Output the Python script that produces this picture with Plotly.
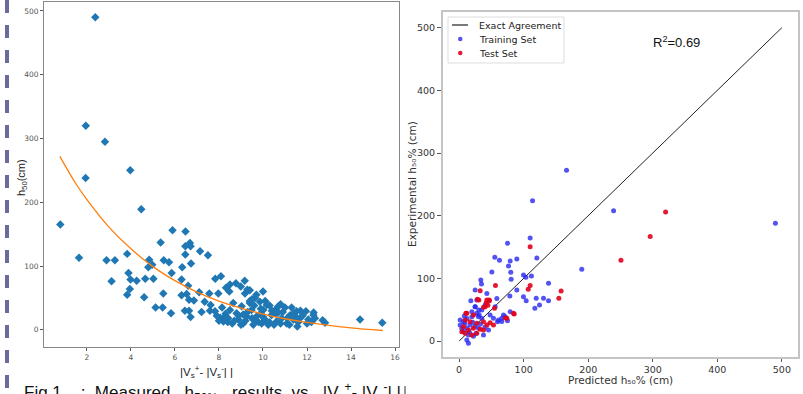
import plotly.graph_objects as go

W, H = 803, 394
def fx(px): return px / W
def fy(py): return 1 - py / H

# ---------------- Left panel data: h50 vs |Vs+ - |Vs-|| ----------------
left_x = [2.38, 1.95, 2.82, 1.94, 3.97, 0.79, 4.47, 1.64, 2.89, 3.27, 3.12, 3.83, 3.89, 3.98,
          4.26, 3.95, 3.83, 4.60, 4.65, 4.83, 4.79, 4.97, 5.02, 5.12, 5.44, 5.35, 5.49, 5.47,
          5.73, 5.85, 5.82, 5.89, 6.30, 6.33, 6.30, 6.48, 6.47, 6.68, 6.71, 6.47, 6.73, 6.60,
          6.53, 6.64, 6.45, 6.64, 6.71, 6.86, 7.10, 7.14, 7.50, 7.21, 7.35, 7.56, 7.62, 7.59,
          7.83, 7.97, 8.09, 8.05, 8.14, 8.32, 8.50, 8.77, 8.99, 9.17, 9.18, 9.29, 9.40, 8.47,
          7.82, 8.27, 8.20, 8.42, 8.50, 8.65, 8.80, 8.88, 9.03, 9.10, 9.26, 9.40, 9.48, 9.56,
          9.64, 9.71, 9.86, 9.94, 10.01, 10.09, 10.17, 10.24, 10.39, 10.55, 10.62, 10.70, 10.85,
          11.00, 11.08, 11.23, 11.38, 11.53, 11.56, 11.68, 11.95, 12.06, 12.29, 12.36, 12.71,
          12.82, 14.41, 15.42, 8.90, 9.00, 9.20, 9.30, 9.50, 9.60, 9.80, 9.90, 10.00, 10.10,
          10.30, 10.40, 10.50, 10.60, 10.80, 10.90, 11.10, 11.20, 11.40, 11.60, 11.80, 12.00,
          12.20, 8.60, 8.30, 8.00, 7.90, 9.70, 9.50, 10.30, 10.80, 11.30, 11.70, 12.30, 10.00,
          9.40, 8.70, 9.10, 9.90, 10.70, 11.50, 8.40, 9.60, 10.20]
left_y = [490, 320, 295, 238, 250, 165, 189, 113, 109, 109, 76, 119, 89, 79,
          77, 64, 55, 51, 80, 110, 98, 102, 80, 35, 35, 137, 109, 57,
          106, 89, 26, 156, 79, 98, 54, 154, 131, 136, 131, 118, 104, 69,
          56, 47, 30, 30, 20, 46, 59, 123, 117, 28, 44, 57, 39, 30,
          80, 57, 84, 19, 35, 66, 71, 73, 68, 77, 57, 63, 62, 60,
          29, 21, 13, 18, 31, 42, 26, 16, 37, 10, 21, 42, 31, 8,
          50, 21, 44, 10, 31, 16, 39, 8, 23, 31, 13, 37, 18,
          35, 10, 23, 16, 29, 5, 18, 29, 16, 23, 18, 15,
          11, 16, 11, 22, 8, 14, 28, 18, 38, 12, 26, 20, 45,
          12, 30, 8, 25, 10, 28, 18, 8, 26, 12, 22, 10,
          12, 10, 25, 14, 22, 55, 48, 38, 40, 35, 30, 27, 60,
          45, 14, 24, 33, 27, 20, 12, 15, 11]

# fitted curve
curve_x = [0.77, 1.5, 2, 3, 4, 5, 6, 7, 8, 9, 10, 11, 12, 13, 14, 15.44]
curve_y = [272, 229, 204, 161, 127, 99, 77, 59, 45, 34, 24.6, 17.3, 11.5, 6.8, 3.1, -1.1]

left_xticks = [2, 4, 6, 8, 10, 12, 14, 16]
left_yticks = [0, 100, 200, 300, 400, 500]

# ---------------- Right panel data: experimental vs predicted ----------------
train_x = [166.4, 113.7, 239.3, 490, 190, 75, 110, 55.3, 62.5, 89.4, 79, 120.4, 76.5, 80,
           80.6, 50.7, 99.7, 103.4, 112, 33.6, 34.6, 138.5, 89.4, 24.8, 58.4, 78.6, 99.7,
           119.4, 130.7, 103.9, 138.5, 124.5, 117.3, 79, 68.7, 75, 66.1, 59.4, 42.9, 27.4,
           18.1, 40.3, 55.8, 24.8, 30.5, 12, 19.7, 27.4, 29.9, 35.1, 17, 24.8, 29.9, 11.9,
           6.7, 14.4, 22.2, 11.9, 14.4, 48, 53.2, 61, 66, 71.3, 1.6, 1.6, 19.7, 35.1, 6.7,
           37.7, 45.5, 24.8, 8, 16, 21, 33, 40, 9, 4, 26, 31]
train_y = [272.6, 224, 208, 188, 114.5, 156, 164.5, 133.7, 129, 131, 127.8, 132.6, 119.8, 109.7,
           98.5, 110, 105.4, 101.7, 103.8, 97.4, 91, 92, 81.5, 81.5, 68, 71.9, 70.8,
           68.2, 68.2, 64.4, 64.4, 57.5, 52.2, 46.9, 41.5, 32.5, 36.2, 30.9, 76, 65.5,
           64.4, 57.5, 54.8, 54.8, 49.5, 36, 38.8, 44.2, 38.8, 36.3, 25.6, 24, 20.3, 20.3,
           30.9, 9.6, 7.5, 1.6, -3.7, 41.5, 36.3, 33.5, 31, 38.8, 25.6, 33.5, 46.8, 49.5, 15,
           9.6, 17.6, 54.8, 40, 14, 30, 27, 22, 28, 20, 12, 42]
test_x = [319.9, 296, 250.7, 110, 158, 154.5, 110, 107, 56.3, 85.3, 71.8, 32.6, 46.5, 30.5,
          54.8, 40.3, 44.5, 10.4, 42.9, 46.9, 28.4, 42, 37.7, 11.9, 22.2, 84.2, 74, 9.3,
          17, 27.4, 37.7, 48, 43, 6.7, 14.4, 22.2, 32.6, 4.2, 9.3, 19.7, 37.7, 53.2, 27.4]
test_y = [206, 166.6, 128.9, 150.6, 79.9, 68.2, 88.4, 82.5, 88.4, 43.1, 36.7, 80.4, 65.5, 65.5,
          52.2, 54.8, 57, 44.2, 65.5, 64.4, 66.6, 61, 53.8, 44.2, 41.5, 44.2, 36.3, 33.5,
          30.9, 28.3, 30.9, 29.3, 25.6, 22.8, 17.6, 20.3, 18.7, 14.9, 12.3, 9.6, 17.6, 25.6, 12.3]
agree_x = [0, 500]
agree_y = [0, 500]
right_ticks = [0, 100, 200, 300, 400, 500]

fig = go.Figure()

# Left panel
fig.add_trace(go.Scatter(x=left_x, y=left_y, mode="markers", xaxis="x", yaxis="y",
                         marker=dict(symbol="diamond", size=6.5, color="#1f77b4"),
                         showlegend=False))
fig.add_trace(go.Scatter(x=curve_x, y=curve_y, mode="lines", xaxis="x", yaxis="y",
                         line=dict(color="#ff7f0e", width=1.3, shape="spline"),
                         showlegend=False))

# Right panel
fig.add_trace(go.Scatter(x=agree_x, y=agree_y, mode="lines", xaxis="x2", yaxis="y2",
                         line=dict(color="#222222", width=1), showlegend=False))
fig.add_trace(go.Scatter(x=train_x, y=train_y, mode="markers", xaxis="x2", yaxis="y2",
                         marker=dict(size=5, color="rgba(40,40,240,0.8)"), showlegend=False))
fig.add_trace(go.Scatter(x=test_x, y=test_y, mode="markers", xaxis="x2", yaxis="y2",
                         marker=dict(size=5, color="rgba(225,0,30,0.9)"), showlegend=False))

tickfont_l = dict(family="DejaVu Sans", size=7.5, color="#555")
tickfont_r = dict(family="DejaVu Sans", size=9.5, color="#333")

fig.update_layout(
    width=W, height=H, margin=dict(l=0, r=0, t=0, b=0, autoexpand=False),
    paper_bgcolor="white", plot_bgcolor="white",
    xaxis=dict(domain=[fx(44), fx(399)], range=[0.05, 16.18], tickvals=left_xticks,
               ticks="outside", ticklen=3, tickcolor="#555", tickfont=tickfont_l,
               showgrid=False, zeroline=False, showline=True, linecolor="#888",
               linewidth=1, mirror=True, anchor="y"),
    yaxis=dict(domain=[fy(347), fy(2)], range=[-27, 514], tickvals=left_yticks,
               ticks="outside", ticklen=3, tickcolor="#555", tickfont=tickfont_l,
               showgrid=False, zeroline=False, showline=True, linecolor="#888",
               linewidth=1, mirror=True, anchor="x"),
    xaxis2=dict(domain=[fx(443), fx(798)], range=[-25, 525], tickvals=right_ticks,
                ticks="outside", ticklen=3, tickcolor="#555", tickfont=tickfont_r,
                showgrid=False, zeroline=False, showline=True, linecolor="#c4c4c4",
                linewidth=2, mirror=True, anchor="y2"),
    yaxis2=dict(domain=[fy(357), fy(12)], range=[-25.5, 525], tickvals=right_ticks,
                ticks="outside", ticklen=4, tickcolor="#555", tickfont=tickfont_r,
                showgrid=False, zeroline=False, showline=True, linecolor="#c4c4c4",
                linewidth=2, mirror=True, anchor="x2"),
)

def note(px, py, text, font, angle=0, xa="center", ya="middle"):
    return dict(x=fx(px), y=fy(py), xref="paper", yref="paper", text=text, showarrow=False,
                textangle=angle, xanchor=xa, yanchor=ya, font=font)

ann = []
# left axis titles
ann.append(note(22, 178, "h<sub>50</sub>(cm)",
                dict(family="Liberation Sans", size=11, color="#222"), angle=-90))
ann.append(note(207, 372, "|V<sub>s</sub><sup>+</sup>- |V<sub>s</sub><sup>-</sup>| |",
                dict(family="Liberation Sans", size=11.5, color="#222")))
# right axis titles
ann.append(note(412, 184, "Experimental h₅₀% (cm)",
                dict(family="DejaVu Sans", size=10.5, color="#333"), angle=-90))
ann.append(note(620, 379.5, "Predicted h₅₀% (cm)",
                dict(family="DejaVu Sans", size=10.5, color="#333")))
# R^2
ann.append(note(676, 42, "R<sup>2</sup>=0.69",
                dict(family="Liberation Sans", size=13, color="#111")))
# manual legend text
for txt, py in [("Exact Agreement", 25), ("Training Set", 39), ("Test Set", 53)]:
    ann.append(note(477, py, txt, dict(family="DejaVu Sans", size=9.5, color="#222"), xa="left"))
# caption (cut at the bottom edge)
nb = "\u00a0"
cap = ("Fig 1" + nb + "." + nb * 2 + ":" + nb * 2 + "Measured" + nb * 3 + "h<sub>50%</sub>" + nb * 3 +
       "results" + nb * 2 + "vs." + nb * 2 + "|V<sub>s</sub><sup>+</sup>- |V<sub>s</sub><sup>-</sup>| |")
ann.append(note(22, 378, cap, dict(family="Liberation Sans", size=17, color="#111"),
                xa="left", ya="top"))
fig.update_layout(annotations=ann)

shapes = []
# legend box
shapes.append(dict(type="rect", xref="paper", yref="paper", x0=fx(448), x1=fx(564),
                   y0=fy(63), y1=fy(17), line=dict(color="#dddddd", width=1),
                   fillcolor="rgba(255,255,255,0.85)", layer="above"))
shapes.append(dict(type="line", xref="paper", yref="paper", x0=fx(452), x1=fx(468),
                   y0=fy(25), y1=fy(25), line=dict(color="#222", width=1.2)))
for py, col in [(39, "rgba(40,40,240,0.8)"), (53, "rgba(225,0,30,0.9)")]:
    shapes.append(dict(type="circle", xref="paper", yref="paper", x0=fx(458), x1=fx(462.5),
                       y0=fy(py + 2.2), y1=fy(py - 2.2), line=dict(width=0), fillcolor=col))
# dashed purple margin line at the left edge
shapes.append(dict(type="line", xref="paper", yref="paper", x0=fx(7), x1=fx(7),
                   y0=fy(0), y1=fy(394), line=dict(color="#6a6a9c", width=4, dash="13px,12px")))
# stray mark under right panel
shapes.append(dict(type="line", xref="paper", yref="paper", x0=fx(405), x1=fx(405),
                   y0=fy(386), y1=fy(394), line=dict(color="#333", width=1)))
fig.update_layout(shapes=shapes)

fig.write_html("out.html", config={"displayModeBar": False},
               post_script="document.body.style.margin='0';document.body.style.overflow='hidden';")
